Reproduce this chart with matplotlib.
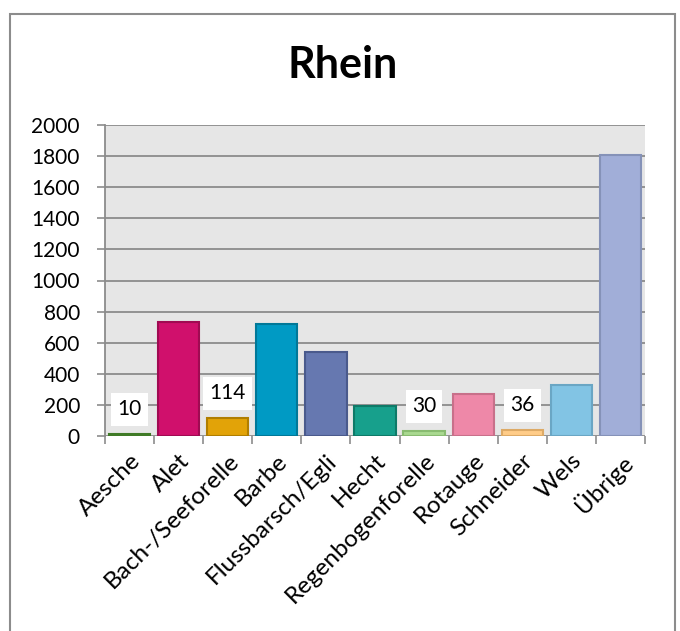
import numpy as np
import matplotlib.pyplot as plt
from matplotlib.patches import Rectangle

# Fangzahlen Rhein nach Fischart
arten = ["Aesche", "Alet", "Bach-/Seeforelle", "Barbe", "Flussbarsch/Egli",
         "Hecht", "Regenbogenforelle", "Rotauge", "Schneider", "Wels", "Übrige"]
anzahl = [10, 735, 114, 720, 540, 192, 30, 268, 36, 325, 1810]
beschriftet = ["Aesche", "Bach-/Seeforelle", "Regenbogenforelle", "Schneider"]

farben = ["#5B9B3B", "#D0106C", "#E2A308", "#009AC4", "#6678B0", "#17A08C",
          "#A9D990", "#EE88A8", "#FFCC88", "#82C4E4", "#A1AED8"]
kanten = ["#3F7A26", "#A00A52", "#B07E00", "#007898", "#4A5A8C", "#0E7A68",
          "#88BB70", "#C8708A", "#DDAA66", "#6AA6C4", "#8592B8"]

plt.rcParams['font.family'] = ['Lato', 'DejaVu Sans']

fig = plt.figure(figsize=(6.8, 6.31), dpi=100)
ax = fig.add_axes([105 / 680, 1 - 436 / 631, 540 / 680, 311 / 631])

x = np.arange(len(arten))
ax.bar(x, anzahl, width=0.84, color=farben, edgecolor=kanten, linewidth=1.5, zorder=3)

for i, (art, wert) in enumerate(zip(arten, anzahl)):
    if art in beschriftet:
        ax.annotate(str(wert), (i, wert), xytext=(0, 18), textcoords="offset points",
                    ha="center", va="center", fontsize=15, zorder=4,
                    bbox=dict(boxstyle="square,pad=0.3", fc="white", ec="none"))

ax.set_facecolor("#E6E6E6")
ax.set_xlim(-0.5, len(arten) - 0.5)
ax.set_ylim(0, 2000)
ax.set_yticks(np.arange(0, 2001, 200))
ax.yaxis.grid(True, color="#8C8C8C", linewidth=1.3, zorder=1)
ax.set_axisbelow(True)

ax.set_xticks(x)
ax.set_xticklabels(arten, rotation=45, ha="right", rotation_mode="anchor", fontsize=17.5)
ax.set_xticks(np.arange(-0.5, len(arten)), minor=True)
ax.tick_params(axis="x", which="major", length=0, pad=10)
ax.tick_params(axis="x", which="minor", length=6, color="#8C8C8C", width=1.2)
ax.tick_params(axis="y", length=6, color="#8C8C8C", width=1.2, pad=12, labelsize=15)

for s in ["top", "right", "bottom"]:
    ax.spines[s].set_visible(False)
ax.spines["left"].set_color("#8C8C8C")
ax.spines["left"].set_linewidth(1.3)

fig.text(343 / 680, 1 - 78 / 631, "Rhein", ha="center", va="baseline",
         fontsize=31, fontweight="bold")

# Rahmen um das Diagramm
fig.patches.append(Rectangle((10 / 680, -0.05), 665 / 680, 1.05 - 14 / 631,
                             transform=fig.transFigure, fill=False,
                             edgecolor="#8C8C8C", linewidth=1.5))

fig.savefig("out.png", dpi=100)
